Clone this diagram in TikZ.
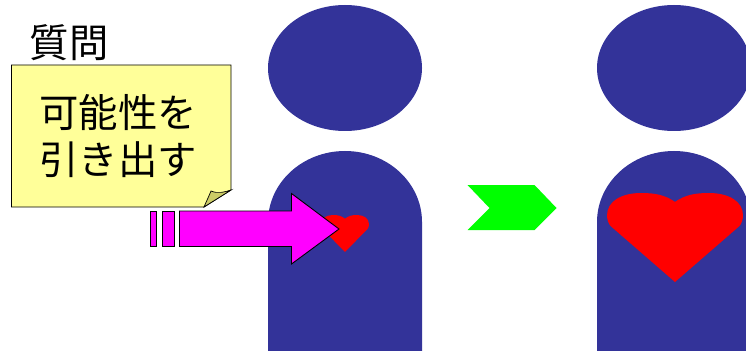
\documentclass[tikz,border=0pt]{standalone}
\usepackage{fontspec}
\setmainfont{Noto Sans CJK JP}
\definecolor{personblue}{HTML}{333399}
\definecolor{noteyellow}{HTML}{FFFF99}
\definecolor{foldyellow}{HTML}{CCCC66}
\definecolor{pushpink}{HTML}{FF00FF}
\definecolor{changegreen}{HTML}{00FF00}
\definecolor{heartred}{HTML}{FF0000}
\begin{document}
\begin{tikzpicture}[x=0.02cm, y=-0.02cm, line join=miter,
    person/.style={fill=personblue, draw=none},
    heart/.style={fill=heartred, draw=none},
    pushbar/.style={fill=pushpink, draw=black, line width=0.5pt},
    label/.style={font=\fontsize{22.4}{26.6}\selectfont, align=center, inner sep=0pt}]
    \path[use as bounding box, clip] (0,0) rectangle (746,351);
    \foreach \cx in {345, 674} {
        \fill[person] (\cx,68) ellipse [x radius=77, y radius=63];
        \fill[person] (\cx-77,351) -- (\cx-77,222) arc [start angle=180, end angle=360, x radius=77, y radius=71] -- (\cx+77,351) -- cycle;
    }
    \foreach \cx/\top/\wid/\hgt in {345/215/0.48/0.74, 675/193/1.36/1.78} {
        \begin{scope}[shift={(\cx,\top)}, x=\wid cm, y=-\hgt cm]
            \fill[heart] (0,.1) .. controls (-.15,.02) and (-.3,0) .. (-.5,0)
                .. controls (-.8,0) and (-1,.1) .. (-1,.25)
                .. controls (-1,.3) and (-.98,.34) .. (-.95,.37) -- (0,1) -- (.95,.37)
                .. controls (.98,.34) and (1,.3) .. (1,.25)
                .. controls (1,.1) and (.8,0) .. (.5,0)
                .. controls (.3,0) and (.15,.02) .. (0,.1) -- cycle;
        \end{scope}
    }
    % note with turned corner
    \draw[fill=noteyellow, line width=0.5pt] (11.5,65) -- (231,65) -- (231,190) -- (204,207) -- (11.5,207) -- cycle;
    \draw[fill=foldyellow, line width=0.4pt] (204,207) .. controls (207,200) and (209,196) .. (211,191)
        .. controls (218,194) and (225,192) .. (231,190) -- cycle;
    \node[label] (question) at (69,43) {質問};
    \node[label] (notetext) at (118,136) {可能性を\\引き出す};
    % push arrow
    \foreach \xa/\xb in {150/156, 162/174} {
        \draw[pushbar] (\xa,211) rectangle (\xb,246.5);
    }
    \draw[pushbar] (179.5,211) -- (291.5,211) -- (291.5,193.5) -- (339,229) -- (291.5,264) -- (291.5,246.5) -- (179.5,246.5) -- cycle;
    % change arrow
    \fill[changegreen] (467.5,185) -- (534.5,185) -- (556.5,208) -- (534.5,230) -- (467.5,230) -- (489.5,208) -- cycle;
\end{tikzpicture}
\end{document}
